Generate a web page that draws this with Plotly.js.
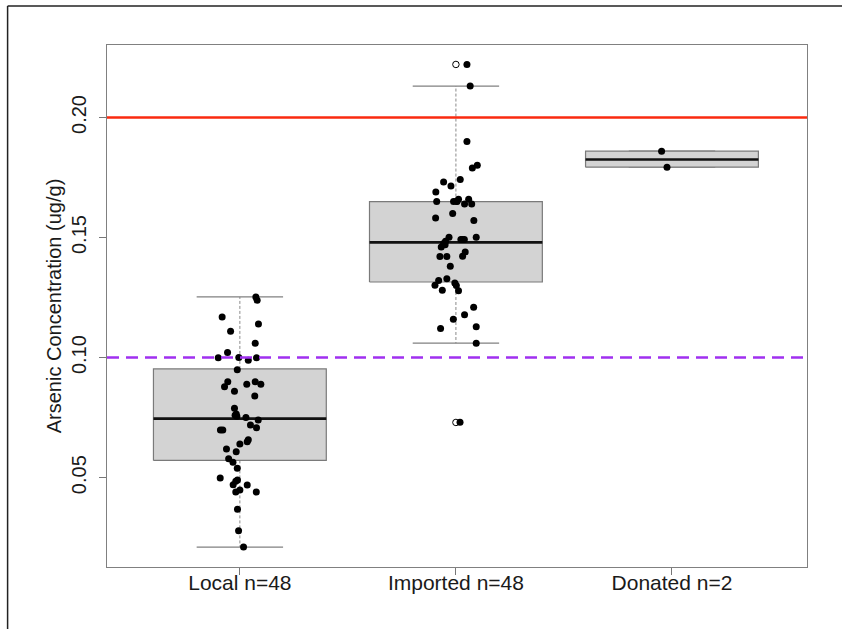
<!DOCTYPE html>
<html>
<head>
<meta charset="utf-8">
<script src="https://cdn.plot.ly/plotly-3.0.1.min.js"></script>
<style>html,body{margin:0;padding:0;background:#fff;}#chart{width:842px;height:629px;}</style>
</head>
<body>
<div id="chart"></div>
<script>
// ---- data ----
const tickLabels = ['Local n=48', 'Imported n=48', 'Donated n=2'];
const groupPos = [1, 2, 3];

// boxplot statistics
const q1 = [0.0572, 0.1315, 0.1793];
const medians = [0.0746, 0.1480, 0.1825];
const q3 = [0.0953, 0.1650, 0.1860];
const whiskerLow = [0.0211, 0.1060, 0.1793];
const whiskerHigh = [0.1253, 0.2131, 0.1860];

// outliers (drawn at the group centre)
const outlierGroup = [2, 2];
const outlierValues = [0.2221, 0.0730];

// raw points with horizontal jitter offsets
const localValues = [0.1253,0.1239,0.1169,0.1140,0.1110,0.1060,0.1021,0.0999,0.1000,0.0989,
  0.0999,0.0950,0.0900,0.0879,0.0889,0.0900,0.0889,0.0860,0.0840,0.0789,
  0.0760,0.0756,0.0751,0.0740,0.0719,0.0708,0.0699,0.0699,0.0658,0.0650,
  0.0640,0.0619,0.0608,0.0579,0.0564,0.0539,0.0499,0.0490,0.0471,0.0469,
  0.0449,0.0440,0.0440,0.0369,0.0279,0.0211,0.0485,0.0765];
const localJitter = [0.074,0.080,-0.082,0.086,-0.043,0.071,-0.057,-0.100,-0.005,0.039,
  0.077,-0.012,-0.056,-0.071,0.032,0.071,0.097,-0.025,0.069,-0.025,
  -0.022,-0.014,0.028,0.085,0.049,0.077,-0.090,-0.079,0.039,0.034,
  0.000,-0.062,-0.017,-0.052,-0.032,-0.012,-0.091,-0.011,-0.031,0.034,
  0.000,-0.019,0.076,-0.011,-0.006,0.017,-0.019,-0.017];

const importedValues = [0.2221,0.2131,0.1900,0.1790,0.1801,0.1742,0.1731,0.1715,0.1690,0.1650,
  0.1650,0.1660,0.1660,0.1640,0.1640,0.1651,0.1581,0.1600,0.1571,0.1501,
  0.1485,0.1475,0.1461,0.1492,0.1492,0.1501,0.1440,0.1422,0.1421,0.1421,
  0.1381,0.1329,0.1321,0.1301,0.1311,0.1300,0.1281,0.1279,0.1210,0.1179,
  0.1160,0.1129,0.1121,0.1060,0.0731,0.1470,0.1492,0.1650];
const importedJitter = [0.051,0.066,0.051,0.076,0.099,0.020,-0.057,-0.023,-0.093,-0.089,
  -0.011,0.012,0.059,0.040,0.073,0.003,-0.094,-0.015,0.083,-0.032,
  -0.048,-0.057,-0.068,0.023,0.039,0.094,0.043,0.031,-0.074,-0.042,
  -0.026,-0.042,-0.080,-0.097,-0.005,0.002,-0.063,0.012,0.082,0.040,
  -0.012,0.094,-0.071,0.094,0.019,-0.050,0.030,0.005];

const donatedValues = [0.1860, 0.1793];
const donatedJitter = [-0.048, -0.023];

// reference lines
const upperLimit = 0.20;
const lowerLimit = 0.10;

// ---- build traces ----
const boxW = 0.8, capW = 0.4;
const traces = [];
const boxX = [], boxY = [], medX = [], medY = [], whX = [], whY = [], capX = [], capY = [];
groupPos.forEach((c, i) => {
  boxX.push(c - boxW/2, c + boxW/2, c + boxW/2, c - boxW/2, c - boxW/2, null);
  boxY.push(q1[i], q1[i], q3[i], q3[i], q1[i], null);
  medX.push(c - boxW/2, c + boxW/2, null);
  medY.push(medians[i], medians[i], null);
  whX.push(c, c, null, c, c, null);
  whY.push(q3[i], whiskerHigh[i], null, q1[i], whiskerLow[i], null);
  capX.push(c - capW/2, c + capW/2, null, c - capW/2, c + capW/2, null);
  capY.push(whiskerHigh[i], whiskerHigh[i], null, whiskerLow[i], whiskerLow[i], null);
});
traces.push({x: whX, y: whY, mode: 'lines', line: {color: '#8a8a8a', width: 1, dash: '3px,2px'}, hoverinfo: 'skip'});
traces.push({x: capX, y: capY, mode: 'lines', line: {color: '#808080', width: 1.2}, hoverinfo: 'skip'});
traces.push({x: boxX, y: boxY, mode: 'lines', fill: 'toself', fillcolor: '#D3D3D3', line: {color: '#7a7a7a', width: 1.2}, hoverinfo: 'skip'});
traces.push({x: medX, y: medY, mode: 'lines', line: {color: '#111', width: 2.6}, hoverinfo: 'skip'});
traces.push({x: outlierGroup, y: outlierValues, mode: 'markers', marker: {symbol: 'circle-open', size: 6.5, color: '#000', line: {width: 1}}, hoverinfo: 'skip'});

const ptsX = [], ptsY = [];
[[localValues, localJitter, 1], [importedValues, importedJitter, 2], [donatedValues, donatedJitter, 3]].forEach(([vals, jit, c]) => {
  vals.forEach((v, k) => { ptsX.push(c + jit[k]); ptsY.push(v); });
});
traces.push({x: ptsX, y: ptsY, mode: 'markers', marker: {size: 7, color: '#000'}, hoverinfo: 'skip'});

const font = {family: 'Liberation Sans, Arial, sans-serif', size: 20, color: '#1a1a1a'};
const layout = {
  width: 842, height: 629,
  margin: {l: 107, r: 35, t: 45, b: 62},
  paper_bgcolor: '#fff', plot_bgcolor: '#fff',
  showlegend: false,
  font: font,
  xaxis: {
    range: [0.385, 3.625], tickvals: groupPos, ticktext: tickLabels,
    ticks: 'outside', ticklen: 7, tickcolor: '#777', tickwidth: 1,
    showgrid: false, zeroline: false, showline: true, mirror: true, linecolor: '#808080', linewidth: 1,
    tickfont: {family: font.family, size: 21, color: font.color}, ticklabelstandoff: -10, fixedrange: true
  },
  yaxis: {
    range: [0.0128, 0.2302], tickvals: [0.05, 0.10, 0.15, 0.20], ticktext: ['0.05', '0.10', '0.15', '0.20'],
    ticks: 'outside', ticklen: 7, tickcolor: '#777', tickwidth: 1, tickangle: -90,
    showgrid: false, zeroline: false, showline: true, mirror: true, linecolor: '#808080', linewidth: 1,
    tickfont: font, ticklabelstandoff: 5,
    title: {text: 'Arsenic Concentration (ug/g)', font: font, standoff: 1},
    automargin: false, fixedrange: true
  },
  shapes: [
    {type: 'line', xref: 'paper', x0: 0, x1: 1, yref: 'y', y0: upperLimit, y1: upperLimit, line: {color: '#FA2A0F', width: 2.5}, layer: 'above'},
    {type: 'line', xref: 'paper', x0: 0, x1: 1, yref: 'y', y0: lowerLimit, y1: lowerLimit, line: {color: '#A030F0', width: 2.5, dash: '12px,7px'}, layer: 'above'},
    // outer frame of the screenshot
    {type: 'line', xref: 'paper', yref: 'paper', x0: -0.142, x1: -0.142, y0: 1.0747, y1: -0.125, line: {color: '#222', width: 1.5}},
    {type: 'line', xref: 'paper', yref: 'paper', x0: -0.142, x1: 1.06, y0: 1.0747, y1: 1.0747, line: {color: '#222', width: 1.5}}
  ]
};
Plotly.newPlot('chart', traces, layout, {staticPlot: true, displayModeBar: false});
</script>
</body>
</html>
